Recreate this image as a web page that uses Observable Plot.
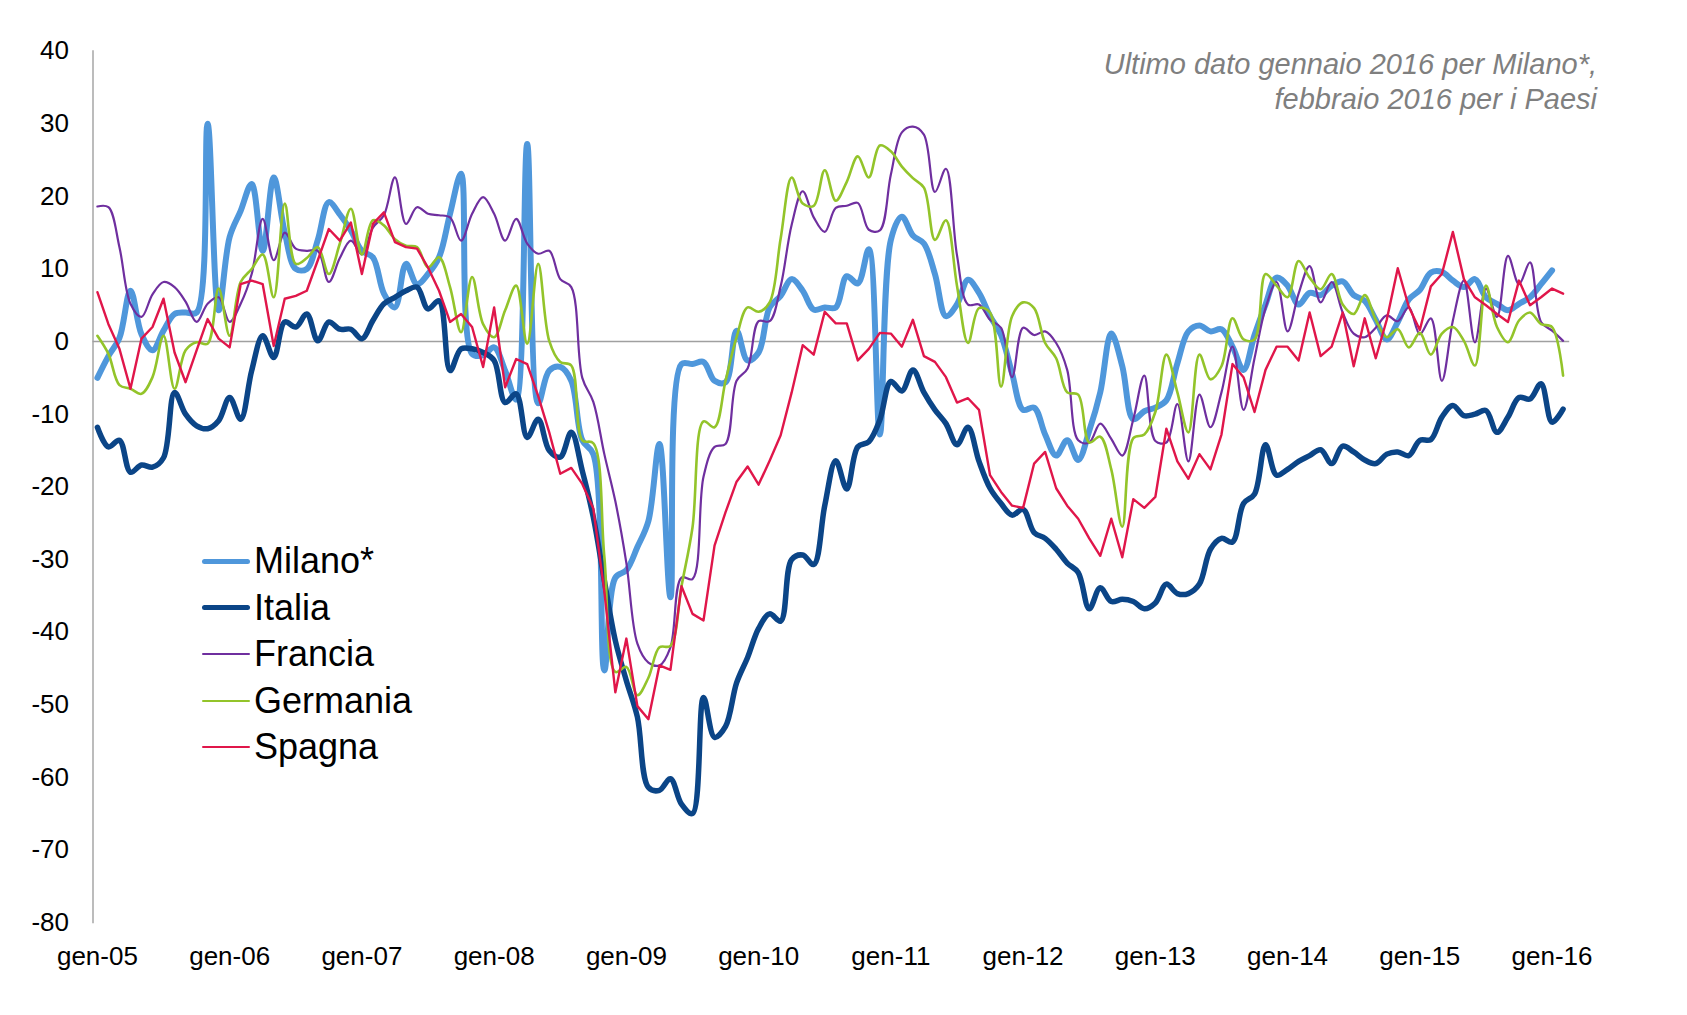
<!DOCTYPE html>
<html>
<head>
<meta charset="utf-8">
<script src="https://cdn.jsdelivr.net/npm/d3@7"></script>
<script src="https://cdn.jsdelivr.net/npm/@observablehq/plot@0.6"></script>
<style>
  body { margin: 0; background: #fff; }
  #wrap { position: relative; width: 1687px; height: 1015px; font-family: "Liberation Sans", Arial, sans-serif; }
  #legend { position: absolute; left: 202px; top: 538px; }
  .row { display: flex; align-items: center; height: 46.5px; }
  .sw { width: 48px; margin-right: 4px; border-radius: 3px; }
  .lab { font-size: 36px; color: #000; line-height: 1; }
  #note { position: absolute; right: 90px; top: 47px; text-align: right; font-style: italic; color: #7f7f7f; font-size: 29px; line-height: 35px; }
</style>
</head>
<body>
<div id="wrap">
  <div id="chart"></div>
  <div id="legend"></div>
  <div id="note">Ultimo dato gennaio 2016 per Milano*,<br>febbraio 2016 per i Paesi</div>
</div>
<script>
// Months start at January 2005 (index 0); Italia/Francia/Germania/Spagna end February 2016, Milano January 2016
const startYear = 2005;
const xTickLabels = ["gen-05","gen-06","gen-07","gen-08","gen-09","gen-10","gen-11","gen-12","gen-13","gen-14","gen-15","gen-16"];
const yTicks = [40,30,20,10,0,-10,-20,-30,-40,-50,-60,-70,-80];

const seriesNames = ["Milano*","Italia","Francia","Germania","Spagna"];
const seriesColors = ["#4f97db","#0b4587","#6f2f9f","#93c42a","#e0164a"];

const milano = [
  -5,-2,0.5,7,1,-1.2,1.5,3.8,4,4,30,4.3,
  14.4,18,21.7,12.5,22.6,15,10,10,14,19.2,17.5,15.3,
  12.5,11.6,6.6,4.7,10.7,7.9,9.3,11.6,17.6,23.1,-1.7,-1.9,
  -0.8,-4,-8,27.2,-8.5,-4,-3.5,-5.4,-13.6,-15.5,-45.3,-32.5,
  -31.5,-28.3,-24.7,-14.1,-35.2,-3.1,-3.1,-2.8,-5.4,-5.6,1.5,-2.6,
  -1.5,4.7,6.3,8.6,7,4.4,4.7,4.7,9,8,12.7,-12.8,
  14,17.2,14.6,13.5,9.3,3.5,5.1,8.5,6.7,3.5,0.9,-4.4,
  -9.4,-9.1,-12.8,-15.7,-13.6,-16.3,-12.3,-7,1.1,-3.4,-10.7,-9.6,
  -9.1,-8.1,-3,1.4,2.2,1.4,1.7,-0.7,-3.9,0.9,5.1,8.8,
  7.7,5.1,6.7,6.4,7.7,8.3,6.4,5.6,3,0.3,2.7,5.8,
  7.1,9.5,9.6,8.4,7.5,8.6,6.1,5.2,4.3,5.2,6.1,7.9,
  9.8
];

const italia = [
  -11.8,-14.5,-13.6,-18,-17,-17.3,-16,-7,-10,-11.6,-12,-10.9,
  -7.7,-10.7,-4,0.8,-2.2,2.7,2,3.8,0.1,2.7,1.7,1.7,
  0.4,2.9,5.2,6.1,7,7.5,4.5,5.6,-4,-1,-1,-1.5,
  -2.6,-8.4,-7.2,-13.2,-10.7,-15,-15.9,-12.5,-17.8,-24.2,-32.9,-41.2,
  -46.7,-51.7,-61.4,-61.8,-60.2,-63.7,-65,-49,-54.5,-53,-47,-43.5,
  -39.5,-37.5,-38.5,-30,-29.4,-30.7,-22.6,-16.4,-20.3,-14.5,-13.8,-10.8,
  -5.5,-6.8,-3.9,-7,-9.4,-11.3,-14.2,-11.8,-16.5,-20.2,-22.3,-23.9,
  -23.1,-26.3,-27.1,-28.6,-30.5,-31.8,-36.8,-33.9,-35.8,-35.5,-35.8,-36.8,
  -36,-33.4,-34.7,-34.7,-33.4,-28.6,-27.1,-27.6,-22.3,-21,-14.2,-18.4,
  -17.6,-16.5,-15.7,-14.9,-16.8,-14.4,-15.2,-16.3,-16.8,-15.5,-15.2,-15.7,
  -13.6,-13.5,-10.4,-8.8,-10.2,-10,-9.5,-12.5,-10.4,-7.7,-7.9,-5.8,
  -11.1,-9.3
];

const francia = [
  18.6,18.5,13,5.2,3.4,6.5,8.2,7.5,5.5,2.7,5.2,6.1,
  2.7,5.2,9.3,16.9,11.2,15,12.8,12.5,12.5,8.2,11.5,13.9,
  12,15.7,17.4,22.6,16.2,18.5,17.6,17.4,17.1,13.9,17.6,19.9,
  17.6,13.9,16.9,13.5,12.1,12.5,8.6,7.5,-5,-8.3,-15.5,-22,
  -30.5,-41.6,-44.2,-44.6,-42.1,-32.5,-32.7,-18.6,-14.5,-14.1,-5.4,-3.7,
  2.8,2.8,7.6,16.1,20.7,17.1,15.1,18.4,18.7,19.1,15.4,15.3,
  23,28.8,29.6,28.5,20.6,23.8,11.9,5.1,5.1,3,1.9,-4.9,
  1.9,0.9,1.4,-0.2,-3.9,-13.6,-13.9,-11.3,-13.4,-15.7,-10.7,-4.7,
  -13.7,-13.9,-8.6,-16.5,-7.3,-11.8,-7,-0.7,-9.4,-2.3,4.6,8.2,
  1.4,6.6,10.4,5.4,8.2,4,1.1,0.6,1.9,3.6,2.8,4.7,
  1,3.2,-5.4,2.9,8.4,-0.1,7.3,3.4,11.8,7.9,10.9,2.7,
  1.5,0.1
];

const germania = [
  0.8,-1.7,-6,-6.5,-7.2,-4.9,0.8,-6.5,-1.2,-0.1,-0.3,7.3,
  0.8,8.2,10,12,6.1,19,10.7,11.5,13,9.3,13.5,18.3,
  12,16.7,16,14.1,13.2,13,10.2,11.6,7.5,1.3,8.9,2.4,
  0.6,4.3,7.7,-0.3,10.7,0.1,-2.8,-3.3,-13.6,-14,-29.6,-45.5,
  -44.8,-48.7,-46.3,-42.1,-41.9,-33.7,-25.6,-11,-11.8,-5.4,0.6,4.7,
  4.1,5.4,14.2,22.6,19,18.7,23.6,19.4,22,25.5,22.6,27,
  26.2,24.1,22.5,21.2,14,16.7,7.7,-0.2,4.6,4,-6.2,3.5,
  5.4,4.6,-0.2,-2.3,-7,-7.3,-13.9,-13.1,-17.6,-25.5,-13.3,-12.8,
  -9.7,-1.8,-7,-12.5,-1.8,-5.2,-3.4,3.2,0.3,0.3,9.3,7.7,
  6.1,11.1,8.8,7.2,9.3,5.1,3.8,6.4,3,0.6,1.7,-0.8,
  1.2,-1.8,1.1,2,0.1,-3.3,7.7,2,-0.1,2.9,4,2.4,
  2,-4.7
];

const spagna = [
  6.8,2.4,-1,-6.5,0.4,2,5.9,-1.5,-5.6,-1.2,3.1,0.4,
  -0.8,7.9,8.4,7.9,-0.6,5.9,6.3,7,11.2,15.5,13.9,16.4,
  9.3,16.2,17.8,13.7,13,12.8,10.2,7,2.7,3.8,2,-3.5,
  4.7,-6.3,-2.4,-3.1,-7.5,-12.5,-18.2,-17.4,-19.6,-23,-34.4,-48.3,
  -40.9,-50.2,-52,-44.6,-45.2,-33.7,-37.5,-38.4,-28.1,-23.5,-19.3,-17.2,
  -19.7,-16.4,-12.9,-7,-0.5,-1.8,4.1,2.5,2.5,-2.6,-1,1.2,
  1.1,-0.7,3,-2,-2.8,-4.9,-8.4,-7.8,-9.4,-18.4,-20.7,-22.6,
  -22.9,-16.8,-15.2,-20.2,-22.6,-24.4,-27.1,-29.5,-24.4,-29.7,-21.7,-22.9,
  -21.4,-12,-16.5,-18.9,-15.5,-17.6,-12.8,-3.1,-4.9,-9.7,-3.9,-0.7,
  -0.7,-2.6,4,-2,-0.7,4,-3.4,3.2,-2.3,3,10.1,4.8,
  1.6,7.6,9.3,15.1,8.6,6.1,5,3.8,2.7,8.4,5,6.1,
  7.3,6.6
];

const seriesValues = [milano, italia, francia, germania, spagna];
const seriesWidths = [6, 5.5, 2.2, 2.6, 2.4];
const seriesCurves = ["catmull-rom","catmull-rom","catmull-rom","catmull-rom","linear"];
const legendWidths = [5, 5, 2, 2, 2];

const rows = seriesValues.map((vals, s) => vals.map((v, i) => ({m: i, v, s: seriesNames[s]})));
const xTickPos = xTickLabels.map((_, k) => k * 12);

const chart = Plot.plot({
  width: 1687,
  height: 1015,
  marginLeft: 92.5,
  marginRight: 117.8,
  marginTop: 50.6,
  marginBottom: 93,
  style: { fontFamily: "'Liberation Sans', Arial, sans-serif", fontSize: "26px", color: "#000", background: "#fff" },
  x: { domain: [-0.4, 133.6], ticks: xTickPos, tickFormat: d => xTickLabels[Math.round(d / 12)], tickSize: 0, tickPadding: 24, label: null },
  y: { domain: [-80, 40], ticks: yTicks, tickFormat: d => String(d), tickSize: 0, tickPadding: 24, label: null },
  marks: [
    Plot.frame({ anchor: "left", stroke: "#a6a6a6", strokeWidth: 1.5 }),
    Plot.ruleY([0], { stroke: "#a0a0a0", strokeWidth: 1.5 }),
    ...rows.map((r, s) => Plot.line(r, {
      x: "m", y: "v",
      stroke: seriesColors[s],
      strokeWidth: seriesWidths[s],
      curve: seriesCurves[s],
      strokeLinejoin: "round",
      strokeLinecap: "round"
    }))
  ]
});
document.getElementById("chart").append(chart);

const legend = document.getElementById("legend");
seriesNames.forEach((name, s) => {
  const row = document.createElement("div");
  row.className = "row";
  const sw = document.createElement("div");
  sw.className = "sw";
  sw.style.height = legendWidths[s] + "px";
  sw.style.background = seriesColors[s];
  const lab = document.createElement("span");
  lab.className = "lab";
  lab.textContent = name;
  row.append(sw, lab);
  legend.append(row);
});
</script>
</body>
</html>
